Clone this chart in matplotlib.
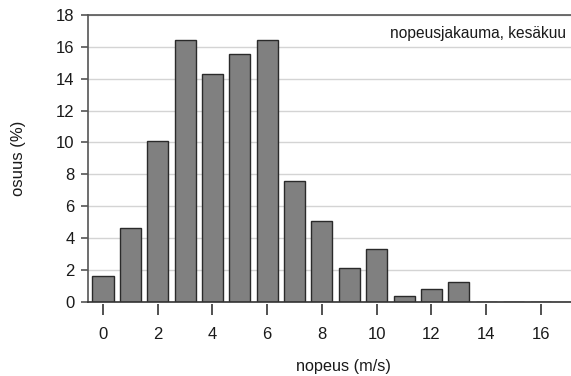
import matplotlib
matplotlib.use("Agg")
import matplotlib.pyplot as plt

speed = list(range(17))
share = [1.63, 4.59, 10.07, 16.42, 14.3, 15.58, 16.42, 7.55, 5.03, 2.08,
         3.32, 0.35, 0.78, 1.2, 0, 0, 0]
xticks = list(range(0, 17, 2))
yticks = list(range(0, 19, 2))

plt.rcParams["font.family"] = ["Liberation Sans", "DejaVu Sans"]

fig = plt.figure(figsize=(5.71, 3.76), dpi=100)
ax = fig.add_axes([0.154, 0.198, 0.846, 0.762])

ax.bar(speed, share, width=0.77, color="#808080", edgecolor="#2a2a2a",
       linewidth=1.0, zorder=3)

ax.set_xlim(-0.55, 17.1)
ax.set_ylim(0, 18)
ax.set_yticks(yticks)
ax.set_xticks(xticks)
ax.grid(axis="y", color="#d4d4d4", linewidth=1.0, zorder=0)

# axis line at y=0, tick marks hang just below it
ax.axhline(0, color="#333333", linewidth=1.2, zorder=4, clip_on=False)
ax.spines["bottom"].set_position(("outward", 1.5))
ax.spines["bottom"].set_visible(False)
ax.spines["right"].set_visible(False)
ax.spines["top"].set_color("#555555")
ax.spines["left"].set_color("#555555")
ax.spines["top"].set_linewidth(1.2)
ax.spines["left"].set_linewidth(1.2)

ax.tick_params(axis="x", length=8, width=1.2, color="#333333", pad=8.5,
               labelsize=12, labelcolor="#1a1a1a")
ax.tick_params(axis="y", length=5, width=1.2, color="#555555", pad=4.5,
               labelsize=12, labelcolor="#1a1a1a")

ax.set_xlabel("nopeus (m/s)", fontsize=11.7, color="#1a1a1a")
ax.set_ylabel("osuus (%)", fontsize=12, color="#1a1a1a")
ax.xaxis.set_label_coords(0.529, -0.2)
ax.yaxis.set_label_coords(-0.128, 0.5)

ax.text(0.99, 0.935, "nopeusjakauma, kesäkuu", transform=ax.transAxes,
        ha="right", va="center", fontsize=11.2, color="#1a1a1a")

fig.savefig("out.png", dpi=100)
